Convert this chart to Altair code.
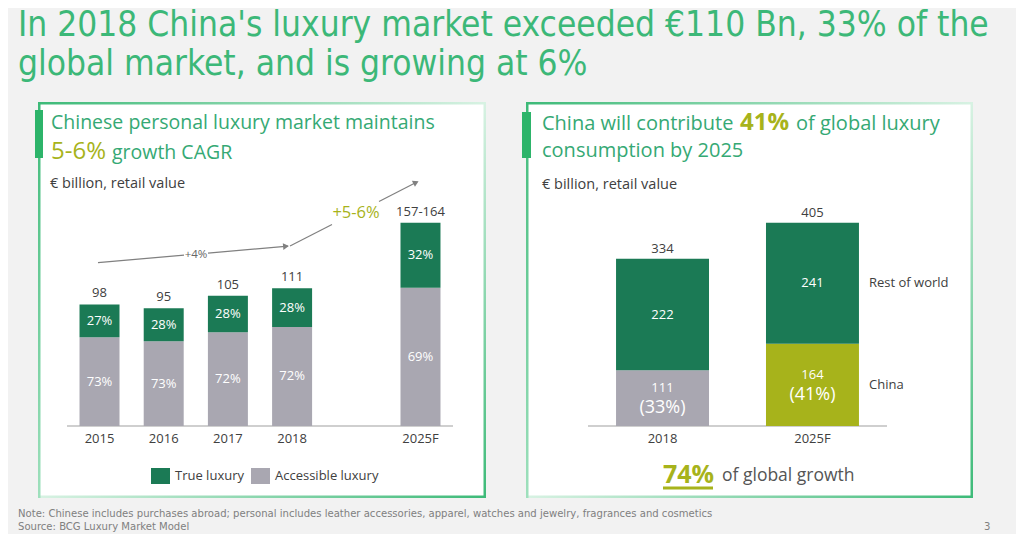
import altair as alt
import pandas as pd

# ---------------- data ----------------
TITLE_1 = "In 2018 China's luxury market exceeded €110 Bn, 33% of the"
TITLE_2 = "global market, and is growing at 6%"
NOTE = "Note: Chinese includes purchases abroad; personal includes leather accessories, apparel, watches and jewelry, fragrances and cosmetics"
SOURCE = "Source: BCG Luxury Market Model"
PAGE = "3"

# left panel
years = ["2015", "2016", "2017", "2018", "2025F"]
total_labels = ["98", "95", "105", "111", "157-164"]
true_lux = [26.5, 26.6, 29.4, 31.1, 52.5]
acc_lux = [71.5, 68.4, 75.6, 79.9, 111.5]
true_pct = ["27%", "28%", "28%", "28%", "32%"]
acc_pct = ["73%", "73%", "72%", "72%", "69%"]
series_left = ["True luxury", "Accessible luxury"]

# right panel
r_years = ["2018", "2025F"]
china = [111, 164]
rest = [222, 241]
r_totals = [334, 405]
china_share = ["(33%)", "(41%)"]
series_right = ["Rest of world", "China"]

# ---------------- style ----------------
BG = "#f2f2f2"
TITLE_GREEN = "#3cb878"
PANEL_GREEN = "#35a974"
OLIVE = "#a7b31b"
DKGREEN = "#1b7a55"
GREY = "#a9a7b1"
TEXT = "#404040"
ARROW = "#808080"
FONT = "Open Sans"
NARROW = "DejaVu Sans Condensed"
OFF = 8  # page margin


def one():
    return alt.Data(values=[{"k": 1}])


def txt(text, x, y, size, color, align="left", baseline="alphabetic", font=FONT, weight="normal"):
    return alt.Chart(alt.Data(values=[{"t": text}])).mark_text(
        align=align, baseline=baseline, fontSize=size, color=color, font=font, fontWeight=weight
    ).encode(x=alt.value(x - OFF), y=alt.value(y - OFF), text="t:N")


def box(x1, y1, x2, y2, fill):
    return alt.Chart(one()).mark_rect(fill=fill, strokeWidth=0).encode(
        x=alt.value(x1 - OFF), x2=alt.value(x2 - OFF), y=alt.value(y1 - OFF), y2=alt.value(y2 - OFF)
    )


def seg(x1, y1, x2, y2, color=ARROW, width=1.2):
    return alt.Chart(one()).mark_rule(color=color, strokeWidth=width).encode(
        x=alt.value(x1 - OFF), x2=alt.value(x2 - OFF), y=alt.value(y1 - OFF), y2=alt.value(y2 - OFF)
    )


def head(x, y, angle):
    return alt.Chart(one()).mark_point(
        shape="triangle-right", filled=True, size=45, color=ARROW, angle=angle, opacity=1
    ).encode(x=alt.value(x - OFF), y=alt.value(y - OFF))


def grad(c1, c2, horizontal=True):
    stops = [alt.GradientStop(color=c1, offset=0), alt.GradientStop(color=c2, offset=1)]
    if horizontal:
        return alt.LinearGradient(gradient="linear", stops=stops, x1=0, x2=1, y1=0, y2=0)
    return alt.LinearGradient(gradient="linear", stops=stops, x1=0, x2=0, y1=0, y2=1)


def panel(x1, y1, x2, y2):
    dark, light = "#3dba78", "#d8f2e3"
    t = 2.5
    return [
        box(x1, y1, x2, y2, "white"),
        box(x1, y1, x2, y1 + t, grad(dark, light)),
        box(x2 - t, y1, x2, y2, grad(light, dark, False)),
        box(x1, y2 - t, x2, y2, grad(light, dark)),
        box(x1, y1, x1 + t, y2, grad(dark, "#9fe0bd", False)),
    ]


layers = []

# ---------------- titles ----------------
layers.append(txt(TITLE_1, 18, 36, 35, TITLE_GREEN, baseline="alphabetic", font=NARROW))
layers.append(txt(TITLE_2, 18, 75, 35, TITLE_GREEN, baseline="alphabetic", font=NARROW))

# ---------------- panels ----------------
layers += panel(38, 102, 486, 498)
layers += panel(526, 102, 973, 498)
layers.append(box(35, 110, 43, 158, "#2db46a"))
layers.append(box(522, 112, 531, 158, "#2db46a"))

# left panel texts
layers.append(txt("Chinese personal luxury market maintains", 51, 129, 19.5, PANEL_GREEN))
layers.append(txt("5-6%", 51, 159, 24, OLIVE))
layers.append(txt("growth CAGR", 112, 159, 19.5, PANEL_GREEN))
layers.append(txt("€ billion, retail value", 50, 188, 14.5, TEXT))

# right panel texts
layers.append(txt("China will contribute", 542, 130, 20, PANEL_GREEN))
layers.append(txt("41%", 740, 130, 24, OLIVE, weight="bold"))
layers.append(txt("of global luxury", 796, 130, 20, PANEL_GREEN))
layers.append(txt("consumption by 2025", 542, 157, 20, PANEL_GREEN))
layers.append(txt("€ billion, retail value", 542, 189, 14.5, TEXT))

# ---------------- left chart ----------------
rows = []
for i, yr in enumerate(years):
    a, t = acc_lux[i], true_lux[i]
    rows.append(dict(year=yr, series=series_left[1], lo=0, hi=a, mid=a / 2, pct=acc_pct[i]))
    rows.append(dict(year=yr, series=series_left[0], lo=a, hi=a + t, mid=a + t / 2, pct=true_pct[i]))
left_df = pd.DataFrame(rows)
left_tot = pd.DataFrame(dict(year=years, top=[a + t for a, t in zip(acc_lux, true_lux)], label=total_labels))

xl = alt.X("year:N", scale=alt.Scale(domain=years[:4] + [" "] + years[4:], range=[67 - OFF, 453 - OFF],
                                      paddingInner=0.377, paddingOuter=0.195), axis=None)
yl_scale = alt.Scale(domain=[0, 100], range=[426 - OFF, 426 - OFF - 124], nice=False, zero=False)
cl = alt.Color("series:N", scale=alt.Scale(domain=series_left, range=[DKGREEN, GREY]), legend=None)

left_bars = alt.Chart(left_df).mark_bar(strokeWidth=0).encode(
    x=xl, y=alt.Y("lo:Q", scale=yl_scale, axis=None), y2="hi:Q", color=cl)
left_pct = alt.Chart(left_df).mark_text(color="white", fontSize=13, font=FONT, baseline="middle").encode(
    x=xl, y=alt.Y("mid:Q", scale=yl_scale, axis=None), text="pct:N")
left_top = alt.Chart(left_tot).mark_text(color=TEXT, fontSize=13, font=FONT, baseline="middle", dy=-11).encode(
    x=xl, y=alt.Y("top:Q", scale=yl_scale, axis=None), text="label:N")
left_xlab = alt.Chart(pd.DataFrame(dict(year=years))).mark_text(color=TEXT, fontSize=13, font=FONT, baseline="middle").encode(
    x=xl, y=alt.value(439 - OFF), text="year:N")
left_chart = alt.layer(seg(67, 426, 453, 426, "#a0a0a0", 1.2), left_bars, left_pct, left_top, left_xlab)
layers.append(left_chart)

# arrows
layers.append(seg(98, 262.7, 184, 255.2))
layers.append(seg(208, 253.1, 288, 246.2))
layers.append(head(286, 246.3, 355))
layers.append(txt("+4%", 196, 254.5, 11.5, "#666666", align="center", baseline="middle"))
layers.append(seg(290, 246, 332, 224.5))
layers.append(seg(379, 201.5, 416, 182.5))
layers.append(head(416, 182.5, 333))
layers.append(txt("+5-6%", 356, 213, 16.5, OLIVE, align="center", baseline="middle"))

# legend
layers.append(box(151, 468, 170, 484, DKGREEN))
layers.append(txt(series_left[0], 175, 476, 13, TEXT, baseline="middle"))
layers.append(box(251, 468, 270, 484, GREY))
layers.append(txt(series_left[1], 275, 476, 13, TEXT, baseline="middle"))

# ---------------- right chart ----------------
rrows = []
for i, yr in enumerate(r_years):
    c, r = china[i], rest[i]
    rrows.append(dict(year=yr, series=series_right[1], key=f"China {yr}", lo=0, hi=c, mid=c / 2,
                      label=str(c), share=china_share[i]))
    rrows.append(dict(year=yr, series=series_right[0], key="Rest of world", lo=c, hi=c + r, mid=c + r / 2,
                      label=str(r), share=""))
right_df = pd.DataFrame(rrows)
right_tot = pd.DataFrame(dict(year=r_years, top=[c + r for c, r in zip(china, rest)], label=[str(v) for v in r_totals]))

xr = alt.X("year:N", scale=alt.Scale(domain=r_years, range=[588 - OFF, 887 - OFF], paddingInner=0.38, paddingOuter=0.187), axis=None)
yr_scale = alt.Scale(domain=[0, 100], range=[426 - OFF, 426 - OFF - 50.2], nice=False, zero=False)
cr = alt.Color("key:N", scale=alt.Scale(domain=["Rest of world", "China 2018", "China 2025F"], range=[DKGREEN, GREY, OLIVE]), legend=None)

right_bars = alt.Chart(right_df).mark_bar(strokeWidth=0).encode(
    x=xr, y=alt.Y("lo:Q", scale=yr_scale, axis=None), y2="hi:Q", color=cr)
rest_df = right_df[right_df.series == "Rest of world"]
china_df = right_df[right_df.series == "China"]
right_rest_lab = alt.Chart(rest_df).mark_text(color="white", fontSize=13, font=FONT, baseline="middle").encode(
    x=xr, y=alt.Y("mid:Q", scale=yr_scale, axis=None), text="label:N")
right_china_lab = alt.Chart(china_df).mark_text(color="white", fontSize=13, font=FONT, baseline="middle", dy=-10).encode(
    x=xr, y=alt.Y("mid:Q", scale=yr_scale, axis=None), text="label:N")
right_china_share = alt.Chart(china_df).mark_text(color="white", fontSize=18, font=FONT, baseline="middle", dy=10).encode(
    x=xr, y=alt.Y("mid:Q", scale=yr_scale, axis=None), text="share:N")
right_top = alt.Chart(right_tot).mark_text(color=TEXT, fontSize=13, font=FONT, baseline="middle", dy=-10).encode(
    x=xr, y=alt.Y("top:Q", scale=yr_scale, axis=None), text="label:N")
right_xlab = alt.Chart(pd.DataFrame(dict(year=r_years))).mark_text(color=TEXT, fontSize=13, font=FONT, baseline="middle").encode(
    x=xr, y=alt.value(439 - OFF), text="year:N")
last = right_df[right_df.year == r_years[-1]]
right_series_lab = alt.Chart(last).mark_text(color=TEXT, fontSize=13, font=FONT, baseline="middle", align="left").encode(
    x=alt.value(869 - OFF), y=alt.Y("mid:Q", scale=yr_scale, axis=None), text="series:N")
right_chart = alt.layer(seg(588, 426, 887, 426, "#a0a0a0", 1.2), right_bars, right_rest_lab, right_china_lab,
                        right_china_share, right_top, right_xlab, right_series_lab)
layers.append(right_chart)

# 74% of global growth
layers.append(txt("74%", 663, 475, 25, OLIVE, baseline="middle", weight="bold"))
layers.append(seg(663, 488, 713, 488, OLIVE, 3))
layers.append(txt("of global growth", 722, 476, 17.5, "#555555", baseline="middle"))

# footer
layers.append(txt(NOTE, 18, 514, 11.2, "#808080", baseline="middle", font=NARROW))
layers.append(txt(SOURCE, 18, 527, 11.2, "#808080", baseline="middle", font=NARROW))
layers.append(txt(PAGE, 984, 527, 11.2, "#808080", baseline="middle", font=NARROW))

chart = alt.layer(*layers).resolve_scale(x="independent", y="independent", color="independent").properties(
    width=1024 - 2 * OFF, height=542 - 2 * OFF, padding=0,
    autosize=alt.AutoSizeParams(type="none"), background=BG
).configure_view(stroke=None)

chart.save("out.html", embed_options={"renderer": "svg", "actions": False})
